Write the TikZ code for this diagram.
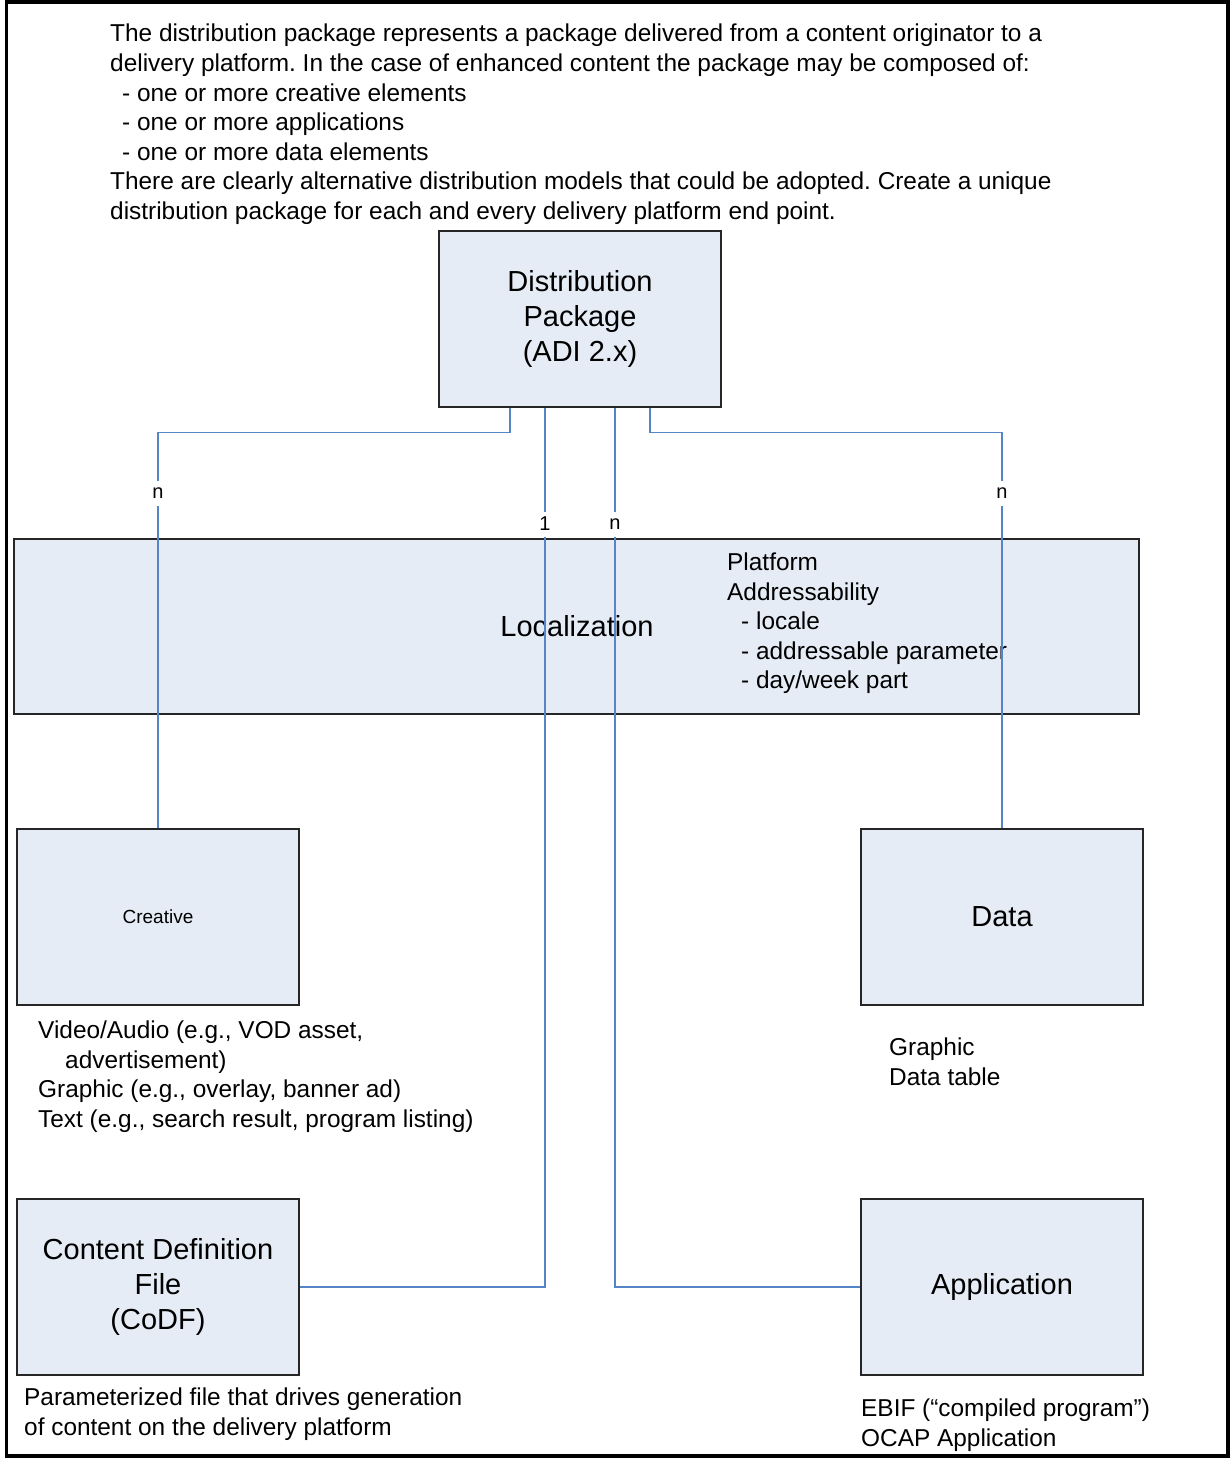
\documentclass[tikz,border=0pt]{standalone}
\usepackage{fontspec}
\setmainfont{Liberation Sans}
\frenchspacing
\definecolor{boxfill}{HTML}{E6ECF6}
\definecolor{conncol}{HTML}{5585C8}
\begin{document}
\begin{tikzpicture}[x=1pt,y=-1pt,
  entity/.style={draw=black!85,fill=boxfill,line width=1.2pt,inner sep=0pt,
    minimum width=282pt,minimum height=176pt,align=center,
    font=\fontsize{29}{35}\selectfont},
  body/.style={inner sep=0pt,align=left,anchor=base west,
    font=\fontsize{24.4}{29.6}\selectfont},
  conn/.style={draw=conncol,line width=1.2pt},
  mult/.style={fill=white,inner sep=0pt,minimum height=25pt,minimum width=12pt,
    font=\fontsize{20}{22}\selectfont}
]
\useasboundingbox (0,0) rectangle (1231,1458);
\draw[line width=3.5pt] (6.5,2) rectangle (1228,1456);

% intro text (anchor = baseline of last line)
\node[body] (intro) at (110,219.5) {The distribution package represents a package delivered from a content originator to a\\
delivery platform. In the case of enhanced content the package may be composed of:\\
\hspace*{12pt}- one or more creative elements\\
\hspace*{12pt}- one or more applications\\
\hspace*{12pt}- one or more data elements\\
There are clearly alternative distribution models that could be adopted. Create a unique\\
distribution package for each and every delivery platform end point.};

% boxes
\node[entity] (dp) at (580,319) {Distribution\\Package\\(ADI 2.x)};
\node[entity,minimum width=1125pt,minimum height=175pt] (loc) at (576.5,626.5) {\hspace*{1pt}Localization};
\node[body] (locnote) at (727,688.8) {Platform\\Addressability\\
\hspace*{14pt}- locale\\
\hspace*{14pt}- addressable parameter\\
\hspace*{14pt}- day/week part};
\node[entity,font=\fontsize{19}{22}\selectfont] (cre) at (158,917) {Creative};
\node[entity] (data) at (1002,917) {Data};
\node[entity] (codf) at (158,1287) {Content Definition\\File\\(CoDF)};
\node[entity] (app) at (1002,1287) {Application};

% captions
\node[body] (crenote) at (38,1127.2) {Video/Audio (e.g., VOD asset,\\
\hspace*{27pt}advertisement)\\
Graphic (e.g., overlay, banner ad)\\
Text (e.g., search result, program listing)};
\node[body] (datanote) at (889,1085.5) {Graphic\\Data table};
\node[body] (codfnote) at (24,1435.5) {Parameterized file that drives generation\\of content on the delivery platform};
\node[body] (appnote) at (861,1446.5) {EBIF (“compiled program”)\\OCAP Application};

% connectors
\draw[conn] ([xshift=-70pt]dp.south) -- ++(0,25) -| (cre.north);
\draw[conn] ([xshift=-35pt]dp.south) |- (codf.east);
\draw[conn] ([xshift=35pt]dp.south) |- (app.west);
\draw[conn] ([xshift=70pt]dp.south) -- ++(0,25) -| (data.north);

% multiplicities
\node[mult] (m1) at (158,493) {n};
\node[mult] (m2) at (545,524) {1};
\node[mult] (m3) at (615,524) {n};
\node[mult] (m4) at (1002,493) {n};
\end{tikzpicture}
\end{document}
